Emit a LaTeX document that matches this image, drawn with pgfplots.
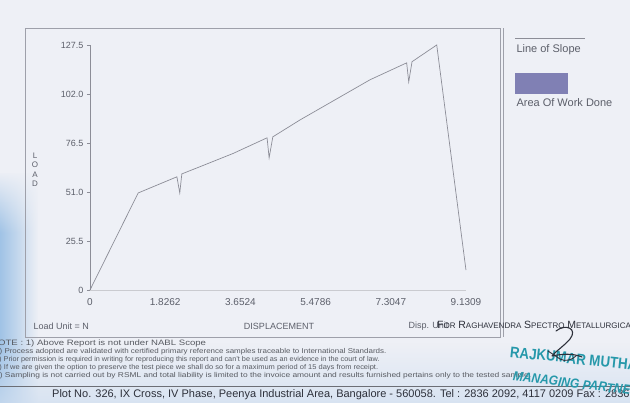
\documentclass[border=0pt]{standalone}
\usepackage{pgfplots}
\pgfplotsset{compat=1.18}
\usepackage{fontspec}
\setmainfont{Liberation Sans}
\usetikzlibrary{fadings}
\definecolor{paper}{RGB}{238,240,246}
\definecolor{paperblue}{RGB}{160,195,230}
\definecolor{ink}{RGB}{92,95,106}
\definecolor{darkink}{RGB}{45,48,58}
\definecolor{curve}{RGB}{140,141,151}
\definecolor{framecol}{RGB}{158,160,170}
\definecolor{work}{RGB}{128,128,180}
\definecolor{stamp}{RGB}{38,152,170}
\newcommand\fsc[2]{{\fontsize{10.5}{11}\selectfont #1}{\fontsize{8}{9}\selectfont #2}}

\begin{document}
\begin{tikzpicture}
\begin{scope}[x=1pt,y=1pt]
% sheet of paper
\fill[paper] (0,0) rectangle (630,403);
\fill[paperblue, path fading=east] (0,0) rectangle (38,230);
\fill[paper, path fading=south] (0,170) rectangle (40,232);
\fill[paperblue!40!paper, path fading=north, opacity=0.7] (0,0) rectangle (630,60);
% chart frame
\draw[framecol, line width=0.8pt] (25,66) rectangle (500,375);
\draw[framecol, line width=0.8pt] (503.5,66) -- (503.5,375);
\end{scope}

% load-displacement curve
\begin{axis}[
  at={(90pt,113pt)}, anchor=south west,
  width=376pt, height=245pt, scale only axis,
  xmin=0, xmax=9.1309, ymin=0, ymax=127.5,
  axis x line*=bottom, axis y line*=left,
  x axis line style={draw=framecol!55, line width=0.5pt},
  y axis line style={draw=curve, line width=0.7pt},
  xtick={0,1.8262,3.6524,5.4786,7.3047,9.1309},
  xticklabels={0,1.8262,3.6524,5.4786,7.3047,9.1309},
  ytick={0,25.5,51,76.5,102,127.5},
  yticklabels={0,25.5,51.0,76.5,102.0,127.5},
  xtick style={draw=none},
  ytick style={draw=curve, line width=0.5pt},
  tick align=outside, major tick length=3pt,
  x tick label style={font=\fontsize{10}{11}\selectfont, text=ink, yshift=-2pt},
  y tick label style={font=\fontsize{9}{10}\selectfont, text=ink},
  clip=false,
]
\addplot[curve, line width=0.7pt, mark=none] coordinates {
  (0,0) (1.17,50.5) (2.11,58.9) (2.18,50.5) (2.23,60.4)
  (3.47,71.0) (4.30,79.2) (4.35,68.8) (4.44,79.7)
  (5.10,88.5) (6.80,109.4) (7.69,118.2) (7.74,108.3) (7.82,118.8)
  (8.42,127.5) (9.13,10.4)
};
\end{axis}

\begin{scope}[x=1pt,y=1pt]
\clip (0,0) rectangle (630,403);
% axis titles and units
\node[ink, align=center, font=\fontsize{8}{9.5}\selectfont] at (35,233) {L\\O\\A\\D};
\node[ink, anchor=west, font=\fontsize{9}{10}\selectfont] at (30,77) {Load Unit = N};
\node[ink, font=\fontsize{9}{10}\selectfont] at (279,77) {DISPLACEMENT};
\node[ink, anchor=west, font=\fontsize{9}{10}\selectfont] at (405,77) {Disp. Unit};
\node[darkink, anchor=west, inner sep=0pt] at (437,78)
  {\fsc{F}{OR} \fsc{R}{AGHAVENDRA} \fsc{S}{PECTRO} \fsc{M}{ETALLURGICAL}};

% legend
\draw[curve, line width=0.8pt] (515,365) -- (585,365);
\node[ink, anchor=west, font=\fontsize{11}{12}\selectfont] at (513,353) {Line of Slope};
\fill[work] (515,309) rectangle (568,330);
\node[ink, anchor=west, font=\fontsize{11}{12}\selectfont] at (513,300) {Area Of Work Done};

% notes under the chart
\begin{scope}[every node/.style={anchor=west, inner sep=0pt, darkink!80, font=\fontsize{7}{8}\selectfont}]
\node at (-9,60) {\scalebox{1.23}[1]{\fontsize{7.8}{8}\selectfont NOTE : 1) Above Report is not under NABL Scope}};
\node at (-5,51) {\scalebox{1.14}[1]{2) Process adopted are validated with certified primary reference samples traceable to International Standards.}};
\node at (-5,43) {\scalebox{1.04}[1]{3) Prior permission is required in writing for reproducing this report and can't be used as an evidence in the court of law.}};
\node at (-5,35) {\scalebox{1.07}[1]{4) If we are given the option to preserve the test piece we shall do so for a maximum period of 15 days from receipt.}};
\node at (-5,27) {\scalebox{1.2}[1]{5) Sampling is not carried out by RSML and total liability is limited to the invoice amount and results furnished pertains only to the tested sample.}};
\end{scope}
\draw[darkink!70, line width=0.5pt] (0,17) -- (630,17);
\node[darkink, anchor=west, inner sep=0pt, font=\fontsize{11}{12}\selectfont] at (52,8)
  {Plot No. 326, IX Cross, IV Phase, Peenya Industrial Area, Bangalore - 560058. Tel : 2836 2092, 4117 0209 Fax : 2836 2092};

% company stamp and signature
\node[stamp, anchor=west, rotate=-6, inner sep=0pt, font=\bfseries\fontsize{14}{15}\selectfont] at (510,51) {\scalebox{0.95}[1.1]{RAJKUMAR MUTHA}};
\node[stamp, anchor=west, rotate=-7, inner sep=0pt, font=\bfseries\itshape\fontsize{12}{13}\selectfont] at (513,27) {\scalebox{1}[1.1]{MANAGING PARTNER}};
\draw[darkink, line width=1.1pt, line cap=round, line join=round]
  (556,72) .. controls (566,80) and (578,74) .. (570,64)
  .. controls (564,57) and (556,52) .. (552,47)
  .. controls (562,49) and (572,50) .. (582,46);
\draw[darkink, line width=0.9pt, line cap=round] (548,52) -- (560,44) .. controls (565,41) and (572,43) .. (576,47);
\end{scope}
\pgfresetboundingbox
\path[use as bounding box] (0pt,0pt) rectangle (630pt,403pt);
\end{tikzpicture}
\end{document}
